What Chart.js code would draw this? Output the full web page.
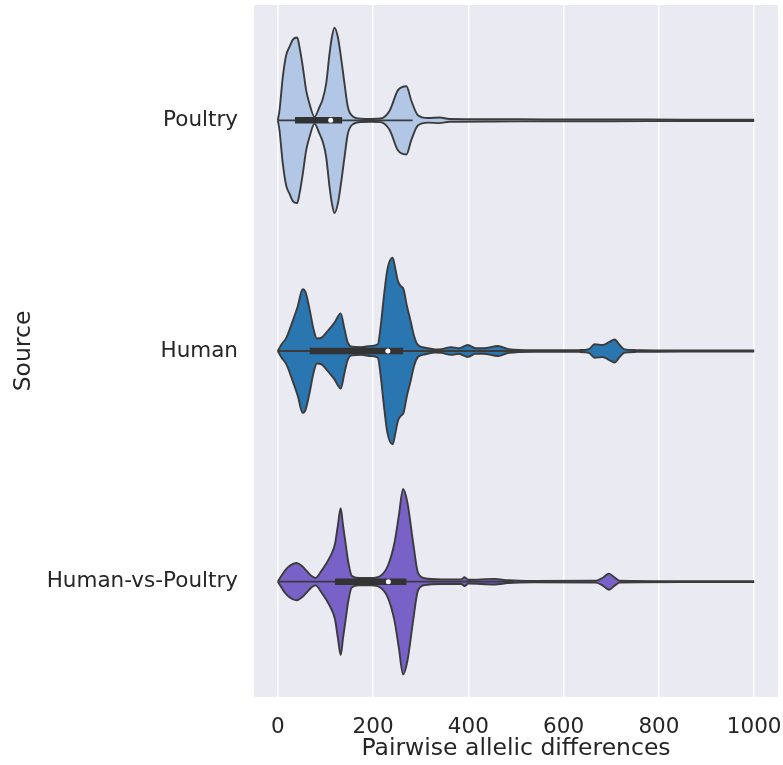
<!DOCTYPE html>
<html>
<head>
<meta charset="utf-8">
<script src="https://cdn.jsdelivr.net/npm/chart.js@4"></script>
<style>
  body { margin: 0; background: #fff; }
  #wrap { width: 783px; height: 765px; }
</style>
</head>
<body>
<div id="wrap"><canvas id="violinChart"></canvas></div>
<script>
// categories (top to bottom)
const sources = ["Poultry", "Human", "Human-vs-Poultry"];
const xTicks = [0, 200, 400, 600, 800, 1000];

// violin outlines: positions along x and half widths (category units)
const poultryX = [0, 3.5, 10.5, 17.5, 24.5, 31.5, 40.6, 45.5, 52.5, 59.5, 66.5, 77, 87.5, 94.5, 101.5, 108.6, 113.5, 119, 126, 133, 140, 147, 157.5, 175, 196, 216, 235, 252, 270, 280, 294, 315, 340, 360, 450, 560, 700, 850, 1000];
const poultryW = [0, 0.043, 0.188, 0.282, 0.318, 0.35, 0.359, 0.318, 0.231, 0.13, 0.072, 0.015, 0.058, 0.094, 0.159, 0.289, 0.36, 0.402, 0.361, 0.268, 0.159, 0.058, 0.017, 0.007, 0.006, 0.008, 0.043, 0.13, 0.148, 0.087, 0.022, 0.01, 0.012, 0.006, 0.005, 0.004, 0.004, 0.003, 0.003];

const humanX = [0, 8, 18, 30, 42, 52, 58, 66, 75, 82, 92, 105, 119, 132, 140, 147, 155, 175, 196, 210, 216, 222, 230, 241, 247, 252, 258, 264, 271, 278, 286, 294, 310, 330, 343, 364, 380, 399, 415, 432, 462, 485, 536, 633, 653, 665, 682, 695, 707, 718, 728, 752, 850, 1000];
const humanW = [0, 0.029, 0.058, 0.123, 0.195, 0.268, 0.256, 0.188, 0.094, 0.054, 0.058, 0.087, 0.123, 0.163, 0.094, 0.036, 0.019, 0.017, 0.022, 0.029, 0.108, 0.224, 0.354, 0.405, 0.354, 0.304, 0.282, 0.268, 0.195, 0.137, 0.065, 0.026, 0.014, 0.007, 0.008, 0.017, 0.012, 0.026, 0.012, 0.012, 0.022, 0.008, 0.003, 0.004, 0.008, 0.029, 0.026, 0.038, 0.05, 0.025, 0.007, 0.004, 0.002, 0.002];

const hvpX = [0, 10, 15, 25, 39, 50, 60, 70, 79, 92, 109, 120, 126, 132, 137, 142, 148, 155, 170, 196, 216, 231, 245, 254, 263, 272, 284, 294, 308, 343, 385, 392, 400, 455, 483, 536, 668, 683, 695, 707, 717, 850, 1000];
const hvpW = [0, 0.033, 0.048, 0.069, 0.081, 0.069, 0.048, 0.026, 0.016, 0.048, 0.105, 0.163, 0.243, 0.318, 0.243, 0.17, 0.084, 0.026, 0.016, 0.016, 0.026, 0.069, 0.17, 0.286, 0.402, 0.344, 0.17, 0.04, 0.015, 0.01, 0.01, 0.019, 0.008, 0.012, 0.006, 0.003, 0.004, 0.018, 0.035, 0.018, 0.004, 0.002, 0.002];

// inner box: whisker low, q1, median, q3, whisker high
const poultryBox = [0, 36, 111, 135, 283];
const humanBox = [0, 67, 231, 263, 557];
const hvpBox = [0, 120, 232, 270, 495];

const fills = ["#b1c7e5", "#2a76b0", "#7862c8"];
const edge = "#3b3b3b";

function violinSets(xs, ws, i, color) {
  const common = {
    showLine: true,
    pointRadius: 0,
    borderColor: edge,
    borderWidth: 1.9,
    borderJoinStyle: "round",
    cubicInterpolationMode: "monotone"
  };
  return [
    { ...common, data: xs.map((x, k) => ({ x, y: i - ws[k] })), fill: "+1", backgroundColor: color, order: 4 },
    { ...common, data: xs.map((x, k) => ({ x, y: i + ws[k] })), fill: false, order: 3 }
  ];
}

function boxSets(b, i) {
  return [
    { data: [{ x: b[0], y: i }, { x: b[4], y: i }], showLine: true, pointRadius: 0,
      borderColor: edge, borderWidth: 1.8, order: 2 },
    { data: [{ x: b[1], y: i }, { x: b[3], y: i }], showLine: true, pointRadius: 0,
      borderColor: "#333333", borderWidth: 6.5, borderCapStyle: "butt", order: 1 },
    { data: [{ x: b[2], y: i }], pointRadius: 2.5, pointBorderWidth: 0,
      pointBackgroundColor: "#ffffff", order: 0 }
  ];
}

const datasets = [
  ...violinSets(poultryX, poultryW, 0, fills[0]),
  ...violinSets(humanX, humanW, 1, fills[1]),
  ...violinSets(hvpX, hvpW, 2, fills[2]),
  ...boxSets(poultryBox, 0),
  ...boxSets(humanBox, 1),
  ...boxSets(hvpBox, 2)
];

// seaborn grey panel
const panelBg = {
  id: "panelBg",
  beforeDraw(chart) {
    const { ctx, chartArea: a } = chart;
    ctx.save();
    ctx.fillStyle = "#eaeaf2";
    ctx.fillRect(a.left, a.top, a.right - a.left, a.bottom - a.top);
    ctx.restore();
  }
};

const tickFont = { family: "DejaVu Sans", size: 21.5 };
const titleFont = { family: "DejaVu Sans", size: 23.5 };

new Chart(document.getElementById("violinChart"), {
  type: "scatter",
  data: { datasets },
  plugins: [panelBg],
  options: {
    responsive: true,
    maintainAspectRatio: false,
    devicePixelRatio: 1,
    animation: false,
    layout: { padding: { left: 0, right: 5, top: 5, bottom: 0 } },
    plugins: { legend: { display: false }, tooltip: { enabled: false } },
    scales: {
      x: {
        type: "linear",
        min: -50,
        max: 1050,
        afterBuildTicks: (s) => { s.ticks = xTicks.map((v) => ({ value: v })); },
        afterFit: (s) => { s.height = 68; s.paddingLeft = 0; s.paddingRight = 0; },
        grid: { color: "#ffffff", lineWidth: 1.5, drawTicks: false },
        border: { display: false },
        ticks: { font: tickFont, color: "#262626", padding: 18, maxRotation: 0,
                 callback: (v) => String(v) },
        title: { display: true, text: "Pairwise allelic differences", font: titleFont,
                 color: "#262626", padding: { top: 0, bottom: 2 } }
      },
      y: {
        type: "linear",
        min: -0.5,
        max: 2.5,
        reverse: true,
        afterBuildTicks: (s) => { s.ticks = sources.map((_, i) => ({ value: i })); },
        afterFit: (s) => { s.width = 254; s.paddingTop = 0; s.paddingBottom = 0; },
        grid: { display: false, drawTicks: false },
        border: { display: false },
        ticks: { font: tickFont, color: "#262626", padding: 16,
                 callback: (v) => sources[v] },
        title: { display: true, text: "Source", font: titleFont,
                 color: "#262626", padding: { top: 10, bottom: 0 } }
      }
    }
  }
});
</script>
</body>
</html>
